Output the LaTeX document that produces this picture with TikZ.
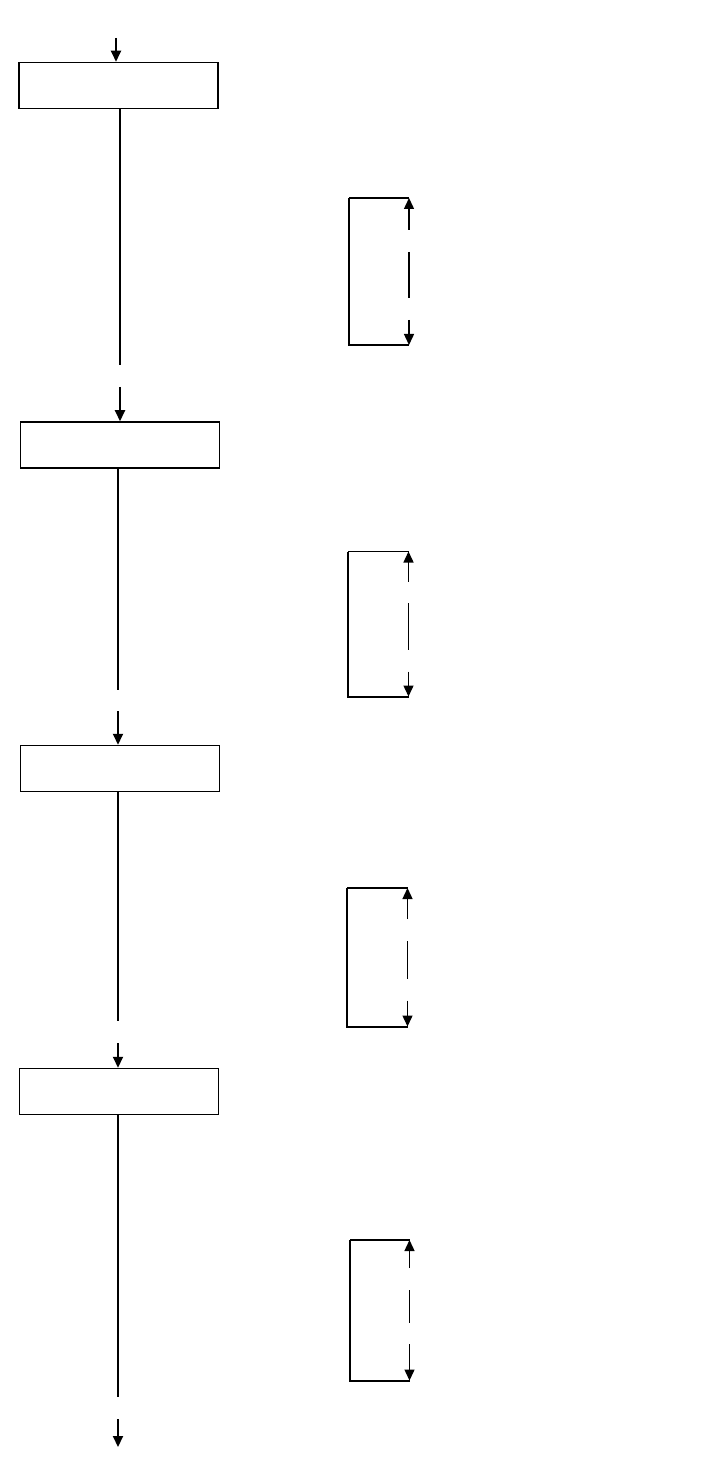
\documentclass[tikz,border=0pt]{standalone}
\usetikzlibrary{arrows.meta}
\begin{document}
\begin{tikzpicture}[x=0.5pt,y=-0.5pt,
  stepbox/.style={draw,line width=0.75pt,minimum width=99.5pt,minimum height=23pt,inner sep=0pt},
  flow/.style={line width=1pt},
  thinflow/.style={line width=0.6pt},
  tip/.style={-{Triangle[width=5pt,length=5.5pt]}},
  brk/.style={line width=0.7pt},
  brkside/.style={line width=1pt}]
\useasboundingbox[fill=white] (0,0) rectangle (701,1475);
% boxes
\node[stepbox] (b1) at (118.5,85.5) {};
\node[stepbox] (b2) at (120,445) {};
\node[stepbox] (b3) at (120,768.5) {};
\node[stepbox] (b4) at (119,1091.5) {};
% free ends
\coordinate (s0) at (116,38);
\coordinate (e1) at (120,365);
\coordinate (s1) at (120,387);
\coordinate (e2) at (118,690);
\coordinate (s2) at (118,711);
\coordinate (e3) at (118,1021);
\coordinate (s3) at (118,1043);
\coordinate (e4) at (118,1397);
\coordinate (s4) at (118,1419);
\coordinate (t4) at (118,1447);
% main flow
\draw[flow,tip] (s0) -- (s0 |- b1.north);
\draw[flow] (e1 |- b1.south) -- (e1);
\draw[flow,tip] (s1) -- (s1 |- b2.north);
\draw[flow] (e2 |- b2.south) -- (e2);
\draw[flow,tip] (s2) -- (s2 |- b3.north);
\draw[thinflow] (e3 |- b3.south) -- (e3);
\draw[flow,tip] (s3) -- (s3 |- b4.north);
\draw[flow] (e4 |- b4.south) -- (e4);
\draw[flow,tip] (s4) -- (t4);
% brackets
\foreach \L/\R/\T/\B/\u/\ma/\mb/\lo [count=\i] in
  {349/409/198/345/230/252/298/320,
   347.5/408.5/551.5/696.5/581.5/603/650/671.5,
   347/407.5/888/1026.5/919/941/979/1000.5,
   349.5/409.5/1240/1380.5/1268/1290/1322.5/1344}{
  \coordinate (bl\i) at (\L,\T);
  \coordinate (br\i) at (\R,\T);
  \coordinate (cl\i) at (\L,\B);
  \coordinate (cr\i) at (\R,\B);
  \coordinate (u\i) at (\R,\u);
  \coordinate (ma\i) at (\R,\ma);
  \coordinate (mb\i) at (\R,\mb);
  \coordinate (lo\i) at (\R,\lo);
  \draw[brk] (br\i) -- (bl\i);
  \draw[brkside] (bl\i) -- (cl\i) -- (cr\i);
  \draw[brk,tip] (u\i) -- (br\i);
  \draw[brk] (ma\i) -- (mb\i);
  \draw[brk,tip] (lo\i) -- (cr\i);
}
\end{tikzpicture}
\end{document}
